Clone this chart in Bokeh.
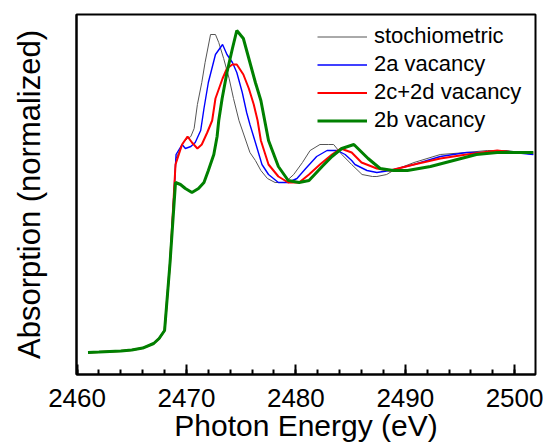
from bokeh.plotting import figure
from bokeh.models import SingleIntervalTicker, FixedTicker, Legend, LegendItem
from bokeh.embed import file_html
from bokeh.resources import INLINE

# ---- data (photon energy in eV, normalized absorption) ----
edge_e = [2461.0, 2462.0, 2463.0, 2464.0, 2465.0, 2466.0, 2467.0, 2467.5, 2468.0, 2468.5]
edge_y = [0.000, 0.002, 0.005, 0.008, 0.013, 0.022, 0.045, 0.070, 0.110, 0.450]

stoich_e = [2469.05, 2469.45, 2469.7, 2470.1, 2470.4, 2470.7, 2471.0, 2471.4, 2471.7, 2472.2,
            2472.65, 2472.95, 2473.4, 2473.9, 2474.3, 2474.8, 2475.8, 2476.3, 2476.8, 2477.4,
            2478.1, 2479.0, 2479.8, 2480.6, 2481.3, 2482.2, 2483.0, 2483.45, 2484.2, 2485.1,
            2486.05, 2487.0, 2487.4, 2488.3, 2488.9, 2490.8, 2493.2, 2495.6, 2497.5, 2499.3, 2501.7]
stoich_y = [0.97, 1.02, 1.05, 1.07, 1.08, 1.12, 1.24, 1.35, 1.45, 1.59,
            1.59, 1.55, 1.47, 1.37, 1.27, 1.16, 1.00, 0.96, 0.91, 0.87,
            0.85, 0.85, 0.89, 0.95, 1.01, 1.04, 1.04, 1.04, 0.99, 0.94,
            0.89, 0.88, 0.88, 0.89, 0.91, 0.95, 0.99, 1.00, 1.01, 1.01, 0.99]

v2a_e = [2469.05, 2469.6, 2469.9, 2470.4, 2470.8, 2471.3, 2471.6, 2472.0, 2472.65, 2473.3,
         2473.7, 2474.2, 2474.6, 2475.1, 2475.5, 2475.8, 2476.3, 2476.9, 2477.5, 2478.4,
         2479.3, 2480.1, 2480.9, 2481.9, 2482.85, 2483.8, 2484.5, 2485.1, 2485.4, 2486.5,
         2487.4, 2488.6, 2490.8, 2493.2, 2495.6, 2498.1, 2499.9, 2501.7]
v2a_y = [0.99, 1.04, 1.02, 1.03, 1.05, 1.11, 1.22, 1.35, 1.49, 1.54,
         1.49, 1.45, 1.40, 1.30, 1.20, 1.14, 1.05, 0.94, 0.89, 0.85,
         0.85, 0.87, 0.92, 0.98, 1.01, 1.01, 0.99, 0.96, 0.94, 0.91,
         0.90, 0.91, 0.94, 0.98, 1.00, 1.00, 1.00, 0.99]

v2c2d_e = [2469.0, 2469.6, 2470.1, 2470.5, 2471.0, 2471.4, 2471.9, 2472.35, 2472.65, 2473.3,
           2473.7, 2474.2, 2474.6, 2475.2, 2475.7, 2476.15, 2476.5, 2476.8, 2477.5, 2478.4,
           2479.3, 2480.3, 2481.2, 2482.2, 2483.3, 2484.1, 2485.1, 2486.0, 2487.4, 2488.6,
           2490.8, 2493.2, 2495.6, 2498.4, 2499.9, 2501.7]
v2c2d_y = [0.94, 1.04, 1.08, 1.05, 1.02, 1.04, 1.10, 1.16, 1.27, 1.37,
           1.42, 1.44, 1.44, 1.39, 1.32, 1.24, 1.16, 1.06, 0.94, 0.88,
           0.85, 0.85, 0.89, 0.94, 0.99, 1.02, 1.00, 0.95, 0.92, 0.91,
           0.94, 0.97, 0.99, 1.01, 1.00, 1.00]

v2b_e = [2469.0, 2469.45, 2469.9, 2470.5, 2471.1, 2471.6, 2472.0, 2472.5, 2472.8, 2472.95,
         2473.26, 2473.7, 2474.2, 2474.6, 2475.2, 2475.8, 2476.3, 2476.8, 2477.5, 2478.4,
         2479.3, 2480.3, 2481.2, 2482.4, 2483.3, 2484.2, 2485.3, 2486.6, 2487.7, 2488.9,
         2490.2, 2492.3, 2494.4, 2496.5, 2498.4, 2499.9, 2501.7]
v2b_y = [0.85, 0.84, 0.82, 0.80, 0.82, 0.85, 0.91, 0.99, 1.08, 1.16,
         1.27, 1.40, 1.52, 1.61, 1.57, 1.45, 1.35, 1.26, 1.06, 0.93,
         0.86, 0.85, 0.86, 0.93, 0.98, 1.02, 1.04, 0.97, 0.92, 0.91,
         0.91, 0.93, 0.96, 0.99, 1.00, 1.00, 1.00]

series_names = ["stochiometric", "2a vacancy", "2c+2d vacancy", "2b vacancy"]
series_e = [stoich_e, v2a_e, v2c2d_e, v2b_e]
series_y = [stoich_y, v2a_y, v2c2d_y, v2b_y]
colors = ["#555555", "#0000ff", "#ff0000", "#008000"]
widths = [1.0, 1.4, 2.0, 3.0]

FONT = "Liberation Sans"

p = figure(width=543, height=444, output_backend="svg", toolbar_location=None,
           x_range=(2459.95, 2501.9), y_range=(-0.11, 1.69),
           min_border_left=76, min_border_right=8, min_border_top=14, min_border_bottom=70)
p.background_fill_color = "white"
p.border_fill_color = "white"
p.xgrid.visible = False
p.ygrid.visible = False
p.outline_line_color = "black"
p.outline_line_width = 2

xa = p.xaxis[0]
xa.ticker = SingleIntervalTicker(interval=10, num_minor_ticks=5)
xa.axis_line_width = 2
xa.major_tick_in = 10
xa.major_tick_out = 0
xa.minor_tick_in = 5
xa.minor_tick_out = 0
xa.major_tick_line_width = 2
xa.minor_tick_line_width = 2
xa.major_label_text_font = FONT
xa.major_label_text_font_size = "26px"
xa.major_label_text_color = "black"
xa.major_label_standoff = 14
xa.axis_label = "Photon Energy (eV)"
xa.axis_label_text_font = FONT
xa.axis_label_text_font_size = "30px"
xa.axis_label_text_font_style = "normal"
xa.axis_label_text_color = "black"
xa.axis_label_standoff = -1

ya = p.yaxis[0]
ya.ticker = FixedTicker(ticks=[])
ya.axis_line_width = 2
ya.major_tick_in = 0
ya.major_tick_out = 0
ya.minor_tick_in = 0
ya.minor_tick_out = 0
ya.axis_label = "Absorption (normalized)"
ya.axis_label_text_font = FONT
ya.axis_label_text_font_size = "31px"
ya.axis_label_text_font_style = "normal"
ya.axis_label_text_color = "black"
ya.axis_label_standoff = 30

items = []
for name, es, ys, c, w in zip(series_names, series_e, series_y, colors, widths):
    r = p.line(edge_e + es, edge_y + ys, line_color=c, line_width=w)
    items.append(LegendItem(label=name, renderers=[r]))

leg = Legend(items=items, location=(241, 241))
leg.border_line_color = None
leg.background_fill_alpha = 0
leg.label_text_font = FONT
leg.label_text_font_size = "22px"
leg.label_text_color = "black"
leg.glyph_width = 50
leg.label_standoff = 7
leg.label_height = 23
leg.glyph_height = 23
leg.spacing = 2
leg.padding = 0
leg.margin = 0
p.add_layout(leg)

open("out.html", "w").write(file_html(p, INLINE))
